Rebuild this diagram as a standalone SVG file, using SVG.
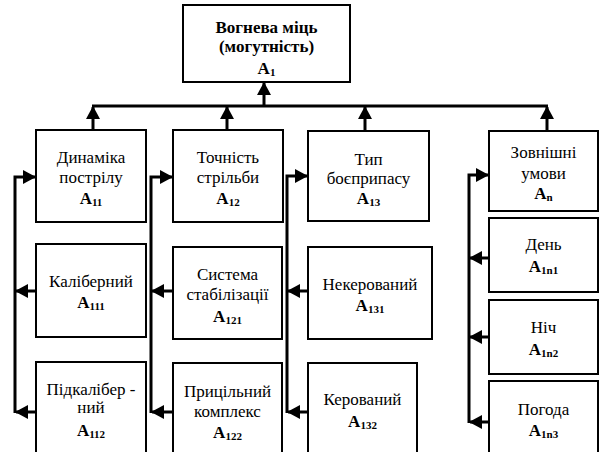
<svg xmlns="http://www.w3.org/2000/svg" width="599" height="452" viewBox="0 0 599 452">
  <style>
    .box { fill: #fff; stroke: #000; stroke-width: 2; }
    text { font-family: 'Liberation Serif', 'DejaVu Serif', serif; font-size: 17px; fill: #000; text-anchor: middle; }
    .b { font-weight: bold; }
    .s { font-size: 11px; font-weight: bold; }
    .c { fill: none; stroke: #000; stroke-width: 3; }
  </style>
  <defs>
    <marker id="arr" markerUnits="userSpaceOnUse" markerWidth="13" markerHeight="14" refX="12" refY="7" orient="auto">
      <path d="M0,0 L13,7 L0,14 z" fill="#000"/>
    </marker>
  </defs>
  <rect width="599" height="452" fill="#fff"/>

  <g id="connectors">
    <!-- bus to root -->
    <line class="c" x1="92" y1="106" x2="548" y2="106"/>
    <line class="c" x1="264" y1="106" x2="264" y2="83" marker-end="url(#arr)"/>
    <line class="c" x1="93" y1="130" x2="93" y2="107" marker-end="url(#arr)"/>
    <line class="c" x1="227" y1="130" x2="227" y2="107" marker-end="url(#arr)"/>
    <line class="c" x1="365" y1="130" x2="365" y2="107" marker-end="url(#arr)"/>
    <line class="c" x1="547" y1="130" x2="547" y2="107" marker-end="url(#arr)"/>
    <!-- group A11 -->
    <path class="c" d="M15,413 V177 H35" marker-end="url(#arr)"/>
    <line class="c" x1="37" y1="291" x2="16" y2="291" marker-end="url(#arr)"/>
    <line class="c" x1="37" y1="412" x2="16" y2="412" marker-end="url(#arr)"/>
    <!-- group A12 -->
    <path class="c" d="M151,413 V177 H172" marker-end="url(#arr)"/>
    <line class="c" x1="174" y1="291" x2="152" y2="291" marker-end="url(#arr)"/>
    <line class="c" x1="174" y1="412" x2="152" y2="412" marker-end="url(#arr)"/>
    <!-- group A13 -->
    <path class="c" d="M287,413 V176 H307" marker-end="url(#arr)"/>
    <line class="c" x1="309" y1="291" x2="288" y2="291" marker-end="url(#arr)"/>
    <line class="c" x1="309" y1="412" x2="288" y2="412" marker-end="url(#arr)"/>
    <!-- group An -->
    <path class="c" d="M469,423 V175 H488" marker-end="url(#arr)"/>
    <line class="c" x1="490" y1="258" x2="470" y2="258" marker-end="url(#arr)"/>
    <line class="c" x1="490" y1="337" x2="470" y2="337" marker-end="url(#arr)"/>
    <line class="c" x1="490" y1="422" x2="470" y2="422" marker-end="url(#arr)"/>
  </g>

  <g id="A1">
    <rect class="box" x="183" y="5" width="167" height="77"/>
    <text class="b" x="266.5" y="33">Вогнева міць</text>
    <text class="b" x="266.5" y="52">(могутність)</text>
    <text class="b" x="266.5" y="74">A<tspan class="s" dy="2">1</tspan></text>
  </g>

  <g id="A11">
    <rect class="box" x="36" y="130" width="110" height="92"/>
    <text x="91" y="163">Динаміка</text>
    <text x="91" y="183">пострілу</text>
    <text class="b" x="91" y="204">A<tspan class="s" dy="2">11</tspan></text>
  </g>
  <g id="A12">
    <rect class="box" x="173" y="130" width="110" height="92"/>
    <text x="228" y="163">Точність</text>
    <text x="228" y="183">стрільби</text>
    <text class="b" x="228" y="204">A<tspan class="s" dy="2">12</tspan></text>
  </g>
  <g id="A13">
    <rect class="box" x="308" y="131" width="121" height="90"/>
    <text x="368.5" y="165">Тип</text>
    <text x="368.5" y="184">боєприпасу</text>
    <text class="b" x="368.5" y="204">A<tspan class="s" dy="2">13</tspan></text>
  </g>
  <g id="An">
    <rect class="box" x="489" y="131" width="109" height="80"/>
    <text x="543.5" y="158">Зовнішні</text>
    <text x="543.5" y="179">умови</text>
    <text class="b" x="543.5" y="199">A<tspan class="s" dy="2">n</tspan></text>
  </g>

  <g id="A111">
    <rect class="box" x="36" y="244" width="110" height="93"/>
    <text x="91" y="287">Каліберний</text>
    <text class="b" x="91" y="308">A<tspan class="s" dy="2">111</tspan></text>
  </g>
  <g id="A112">
    <rect class="box" x="36" y="362" width="110" height="100"/>
    <text x="91" y="395">Підкалібер -</text>
    <text x="91" y="413">ний</text>
    <text class="b" x="91" y="436">A<tspan class="s" dy="2">112</tspan></text>
  </g>
  <g id="A121">
    <rect class="box" x="173" y="247" width="109" height="92"/>
    <text x="227.5" y="280">Система</text>
    <text x="227.5" y="300">стабілізації</text>
    <text class="b" x="227.5" y="322">A<tspan class="s" dy="2">121</tspan></text>
  </g>
  <g id="A122">
    <rect class="box" x="173" y="363" width="109" height="100"/>
    <text x="227.5" y="397">Прицільний</text>
    <text x="227.5" y="417">комплекс</text>
    <text class="b" x="227.5" y="438">A<tspan class="s" dy="2">122</tspan></text>
  </g>
  <g id="A131">
    <rect class="box" x="308" y="247" width="124" height="92"/>
    <text x="370" y="290">Некерований</text>
    <text class="b" x="370" y="311">A<tspan class="s" dy="2">131</tspan></text>
  </g>
  <g id="A132">
    <rect class="box" x="308" y="363" width="109" height="100"/>
    <text x="362.5" y="405">Керований</text>
    <text class="b" x="362.5" y="427">A<tspan class="s" dy="2">132</tspan></text>
  </g>
  <g id="A1n1">
    <rect class="box" x="489" y="218" width="109" height="74"/>
    <text x="543.5" y="250">День</text>
    <text class="b" x="543.5" y="272">A<tspan class="s" dy="2">1n1</tspan></text>
  </g>
  <g id="A1n2">
    <rect class="box" x="489" y="300" width="109" height="74"/>
    <text x="543.5" y="333">Ніч</text>
    <text class="b" x="543.5" y="355">A<tspan class="s" dy="2">1n2</tspan></text>
  </g>
  <g id="A1n3">
    <rect class="box" x="489" y="381" width="109" height="80"/>
    <text x="543.5" y="415">Погода</text>
    <text class="b" x="543.5" y="436">A<tspan class="s" dy="2">1n3</tspan></text>
  </g>
</svg>
